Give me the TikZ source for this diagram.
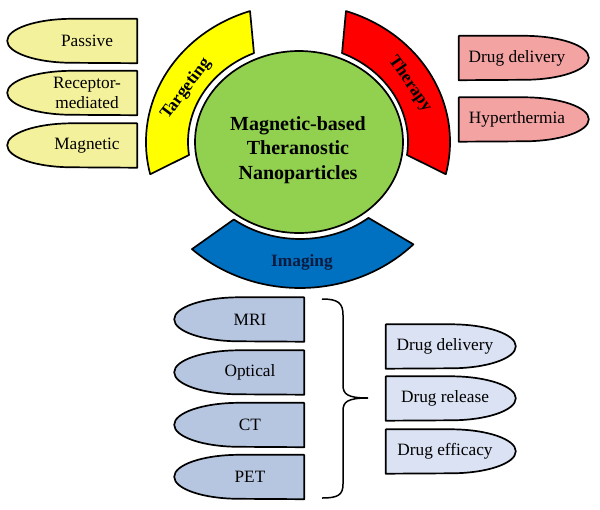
\documentclass[tikz,border=0pt]{standalone}
\usepackage{fontspec}
\setmainfont{Liberation Serif}
\usetikzlibrary{calc,backgrounds}

\definecolor{softyellow}{HTML}{F4F19C}
\definecolor{tgtyellow}{HTML}{FFFF00}
\definecolor{thrred}{HTML}{FF0000}
\definecolor{softpink}{HTML}{F4A3A3}
\definecolor{ballgreen}{HTML}{92D050}
\definecolor{imgblue}{HTML}{0070C0}
\definecolor{imgnavy}{HTML}{0B1B40}
\definecolor{steelbul}{HTML}{B7C6E0}
\definecolor{palebul}{HTML}{DAE2F3}

\begin{document}
\begin{tikzpicture}[
    x=1pt, y=1pt,
    outline/.style={draw=black, line width=1.7pt, line join=round},
    bul/.style={minimum height=44pt, inner sep=0pt, align=center, font=\fontsize{17.3}{20}\selectfont},
    arclabel/.style={inner sep=0pt, font=\fontsize{17.3}{20}\selectfont\bfseries}
]
    \useasboundingbox (0,0) rectangle (600,-509);

    % centre ball and the three block arcs
    \coordinate (hub) at (298,-142);
    \coordinate (hublow) at (300,-142);
    \draw[outline, fill=ballgreen] (299,-142) ellipse[x radius=104, y radius=91];
    \node[align=center, font=\fontsize{20}{24.5}\selectfont\bfseries] (core) at (298,-150)
        {Magnetic-based\\Theranostic\\Nanoparticles};

    \draw[outline, fill=tgtyellow] ($(hub)+(108.4:152 and 138)$)
        arc[start angle=108.4, end angle=193.5, x radius=152, y radius=138]
        -- ($(hub)+(187.7:110 and 97)$)
        arc[start angle=187.7, end angle=113.6, x radius=110, y radius=97] -- cycle;
    \draw[outline, fill=thrred] ($(hub)+(71.6:152 and 138)$)
        arc[start angle=71.6, end angle=-13.5, x radius=152, y radius=138]
        -- ($(hub)+(-7.7:110 and 97)$)
        arc[start angle=-7.7, end angle=66.4, x radius=110, y radius=97] -- cycle;
    \draw[outline, fill=imgblue] ($(hublow)+(227.2:159 and 146)$)
        arc[start angle=227.2, end angle=315.5, x radius=159, y radius=146]
        -- ($(hublow)+(308.5:110 and 97)$)
        arc[start angle=308.5, end angle=233, x radius=110, y radius=97] -- cycle;

    \node[arclabel, rotate=53] (targeting) at (186,-89) {Targeting};
    \node[arclabel, rotate=-55] (therapy) at (410,-84) {Therapy};
    \node[arclabel, text=imgnavy] (imaging) at (302,-262) {Imaging};

    % targeting
    \node[bul, minimum width=100pt] (passive) at (87,-41) {Passive};
    \node[bul, minimum width=100pt] (receptor) at (87,-93) {Receptor-\\mediated};
    \node[bul, minimum width=100pt] (magnetic) at (87,-145.5) {Magnetic};

    % therapy
    \node[bul, minimum width=116pt] (delivery) at (517,-58) {Drug delivery};
    \node[bul, minimum width=116pt] (hyper) at (517,-119.5) {Hyperthermia};

    % imaging
    \node[bul, minimum width=108pt] (mri) at (250,-319.5) {MRI};
    \node[bul, minimum width=108pt] (optical) at (250,-372.5) {Optical};
    \node[bul, minimum width=108pt] (ct) at (250,-425) {CT};
    \node[bul, minimum width=108pt] (pet) at (250,-477) {PET};

    \node[bul, minimum width=118pt] (trackdel) at (445,-346.5) {Drug delivery};
    \node[bul, minimum width=118pt] (trackrel) at (445,-398.5) {Drug release};
    \node[bul, minimum width=118pt] (trackeff) at (445,-451.5) {Drug efficacy};

    % brace
    \coordinate (bracetop) at (322,-299);
    \coordinate (bracetip) at (368,-398);
    \coordinate (bracebot) at (322,-498);
    \draw[line width=1.5pt] (bracetop) .. controls (338,-299) and (343,-303) .. (343,-315)
        -- (343,-385) .. controls (343,-394) and (347,-398) .. (bracetip)
        .. controls (347,-398) and (343,-402) .. (343,-411)
        -- (343,-484) .. controls (343,-495) and (338,-498) .. (bracebot);

    \begin{scope}[on background layer]
        \foreach \n in {passive,receptor,magnetic}
            \draw[outline, fill=softyellow] (\n.north east) -- ++(-65,0)
                arc[start angle=90, end angle=270, x radius=65, y radius=22] -- (\n.south east) -- cycle;
        \foreach \n in {delivery,hyper}
            \draw[outline, fill=softpink] (\n.north west) -- ++(65,0)
                arc[start angle=90, end angle=-90, x radius=65, y radius=22] -- (\n.south west) -- cycle;
        \foreach \n in {mri,optical,ct,pet}
            \draw[outline, fill=steelbul] (\n.north east) -- ++(-65,0)
                arc[start angle=90, end angle=270, x radius=65, y radius=22] -- (\n.south east) -- cycle;
        \foreach \n in {trackdel,trackrel,trackeff}
            \draw[outline, fill=palebul] (\n.north west) -- ++(65,0)
                arc[start angle=90, end angle=-90, x radius=65, y radius=22] -- (\n.south west) -- cycle;
    \end{scope}
\end{tikzpicture}
\end{document}
